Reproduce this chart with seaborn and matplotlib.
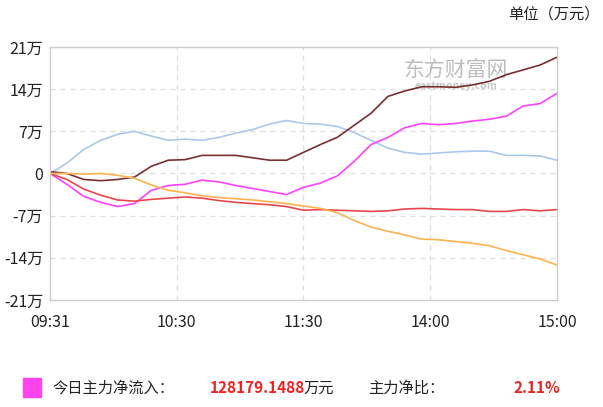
import matplotlib
matplotlib.use('Agg')
import matplotlib.pyplot as plt
import numpy as np
import pandas as pd
import seaborn as sns

# minutes since 09:31 (trading minutes, lunch break removed)
minutes = list(range(0, 241, 8))

blue = [0, 1.7, 4.0, 5.5, 6.5, 7.0, 6.2, 5.5, 5.7, 5.5, 6.0, 6.7, 7.3, 8.2, 8.8, 8.3,
        8.2, 7.8, 6.8, 5.5, 4.2, 3.5, 3.2, 3.4, 3.6, 3.7, 3.7, 3.0, 3.0, 2.9, 2.2]
brown = [0.3, 0, -1.0, -1.2, -1.0, -0.6, 1.2, 2.2, 2.3, 3.0, 3.0, 3.0, 2.6, 2.2, 2.2, 3.5,
         4.8, 6.0, 8.0, 10.0, 12.8, 13.7, 14.4, 14.4, 14.3, 14.7, 15.3, 16.4, 17.2, 18.0, 19.3]
magenta = [0, -1.8, -3.8, -4.8, -5.5, -5.0, -2.8, -2.0, -1.8, -1.1, -1.4, -2.0, -2.5, -3.0, -3.5, -2.3,
           -1.6, -0.4, 2.0, 4.8, 6.0, 7.6, 8.3, 8.1, 8.3, 8.7, 9.0, 9.5, 11.2, 11.6, 13.3]
red = [0, -1.0, -2.6, -3.6, -4.4, -4.6, -4.3, -4.1, -3.9, -4.1, -4.5, -4.8, -5.0, -5.2, -5.5, -6.1,
       -6.0, -6.1, -6.2, -6.3, -6.2, -5.9, -5.8, -5.9, -6.0, -6.0, -6.3, -6.3, -6.0, -6.2, -6.0]
orange = [0, 0, -0.1, 0, -0.3, -0.8, -1.9, -2.8, -3.2, -3.7, -4.0, -4.2, -4.4, -4.7, -5.0, -5.4,
          -5.8, -6.5, -7.8, -8.9, -9.6, -10.2, -10.9, -11.0, -11.3, -11.6, -12.0, -12.8, -13.5, -14.2, -15.2]

series_names = ['超大单', '主力', '今日主力', '大单', '中单']
series_vals = [blue, brown, magenta, red, orange]
palette = {'超大单': '#a9c9ec', '主力': '#7a2f2f', '今日主力': '#ff40ff',
           '大单': '#e8464c', '中单': '#ffb24f'}

x_ticks = [0, 60, 120, 180, 240]
x_labels = ['09:31', '10:30', '11:30', '14:00', '15:00']
y_ticks = [-21, -14, -7, 0, 7, 14, 21]
y_labels = ['-21万', '-14万', '-7万', '0', '7万', '14万', '21万']

df = pd.DataFrame({
    'minute': minutes * len(series_names),
    'value': sum(series_vals, []),
    'series': np.repeat(series_names, len(minutes)),
})

sns.set_style('white')
plt.rcParams['font.family'] = ['Noto Sans CJK SC', 'DejaVu Sans']

fig = plt.figure(figsize=(6.03, 4.07), dpi=100)
ax = fig.add_axes([0.0829, 0.263, 0.8408, 0.6216])

sns.lineplot(data=df, x='minute', y='value', hue='series', palette=palette,
             linewidth=1.2, legend=False, ax=ax)

ax.set_xlim(0, 240)
ax.set_ylim(-21, 21)
ax.set_xticks(x_ticks)
ax.set_xticklabels(x_labels)
ax.set_yticks(y_ticks)
ax.set_yticklabels(y_labels)
ax.set_xlabel('')
ax.set_ylabel('')
ax.tick_params(length=0, labelsize=11.5, labelcolor='#222222')
ax.tick_params(axis='x', pad=10)
ax.tick_params(axis='y', pad=5)

for v in [-14, -7, 0, 7, 14]:
    ax.axhline(v, color='#dddddd', linestyle=(0, (4, 4)), linewidth=0.9, zorder=0)
for v in [60, 120, 180]:
    ax.axvline(v, color='#dddddd', linestyle=(0, (4, 4)), linewidth=0.9, zorder=0)

for s in ax.spines.values():
    s.set_color('#cccccc')
    s.set_linewidth(1)

# watermark
ax.text(0.80, 0.905, '东方财富网', transform=ax.transAxes, fontsize=15,
        color='#bdbdbd', ha='center', va='center', zorder=0)
ax.text(0.80, 0.845, 'eastmoney.com', transform=ax.transAxes, fontsize=7.5,
        color='#c8c8c8', ha='center', va='center', zorder=0, fontweight='bold')

fig.text(0.995, 0.965, '单位（万元）', ha='right', va='center', fontsize=11, color='#222222')

# bottom info line
fig.patches.append(plt.Rectangle((23 / 603, 1 - 397 / 407), 18 / 603, 19 / 407,
                                 transform=fig.transFigure, color='#ff44ee'))
fig.text(52 / 603, 1 - 388 / 407, '今日主力净流入：', ha='left', va='center', fontsize=11, color='#222222')
fig.text(210 / 603, 1 - 388 / 407, '128179.1488', ha='left', va='center', fontsize=11,
         color='#ee2222', fontweight='bold')
fig.text(303 / 603, 1 - 388 / 407, '万元', ha='left', va='center', fontsize=11, color='#222222')
fig.text(368 / 603, 1 - 388 / 407, '主力净比：', ha='left', va='center', fontsize=11, color='#222222')
fig.text(513 / 603, 1 - 388 / 407, '2.11%', ha='left', va='center', fontsize=11,
         color='#ee2222', fontweight='bold')

fig.savefig('out.png', dpi=100)
